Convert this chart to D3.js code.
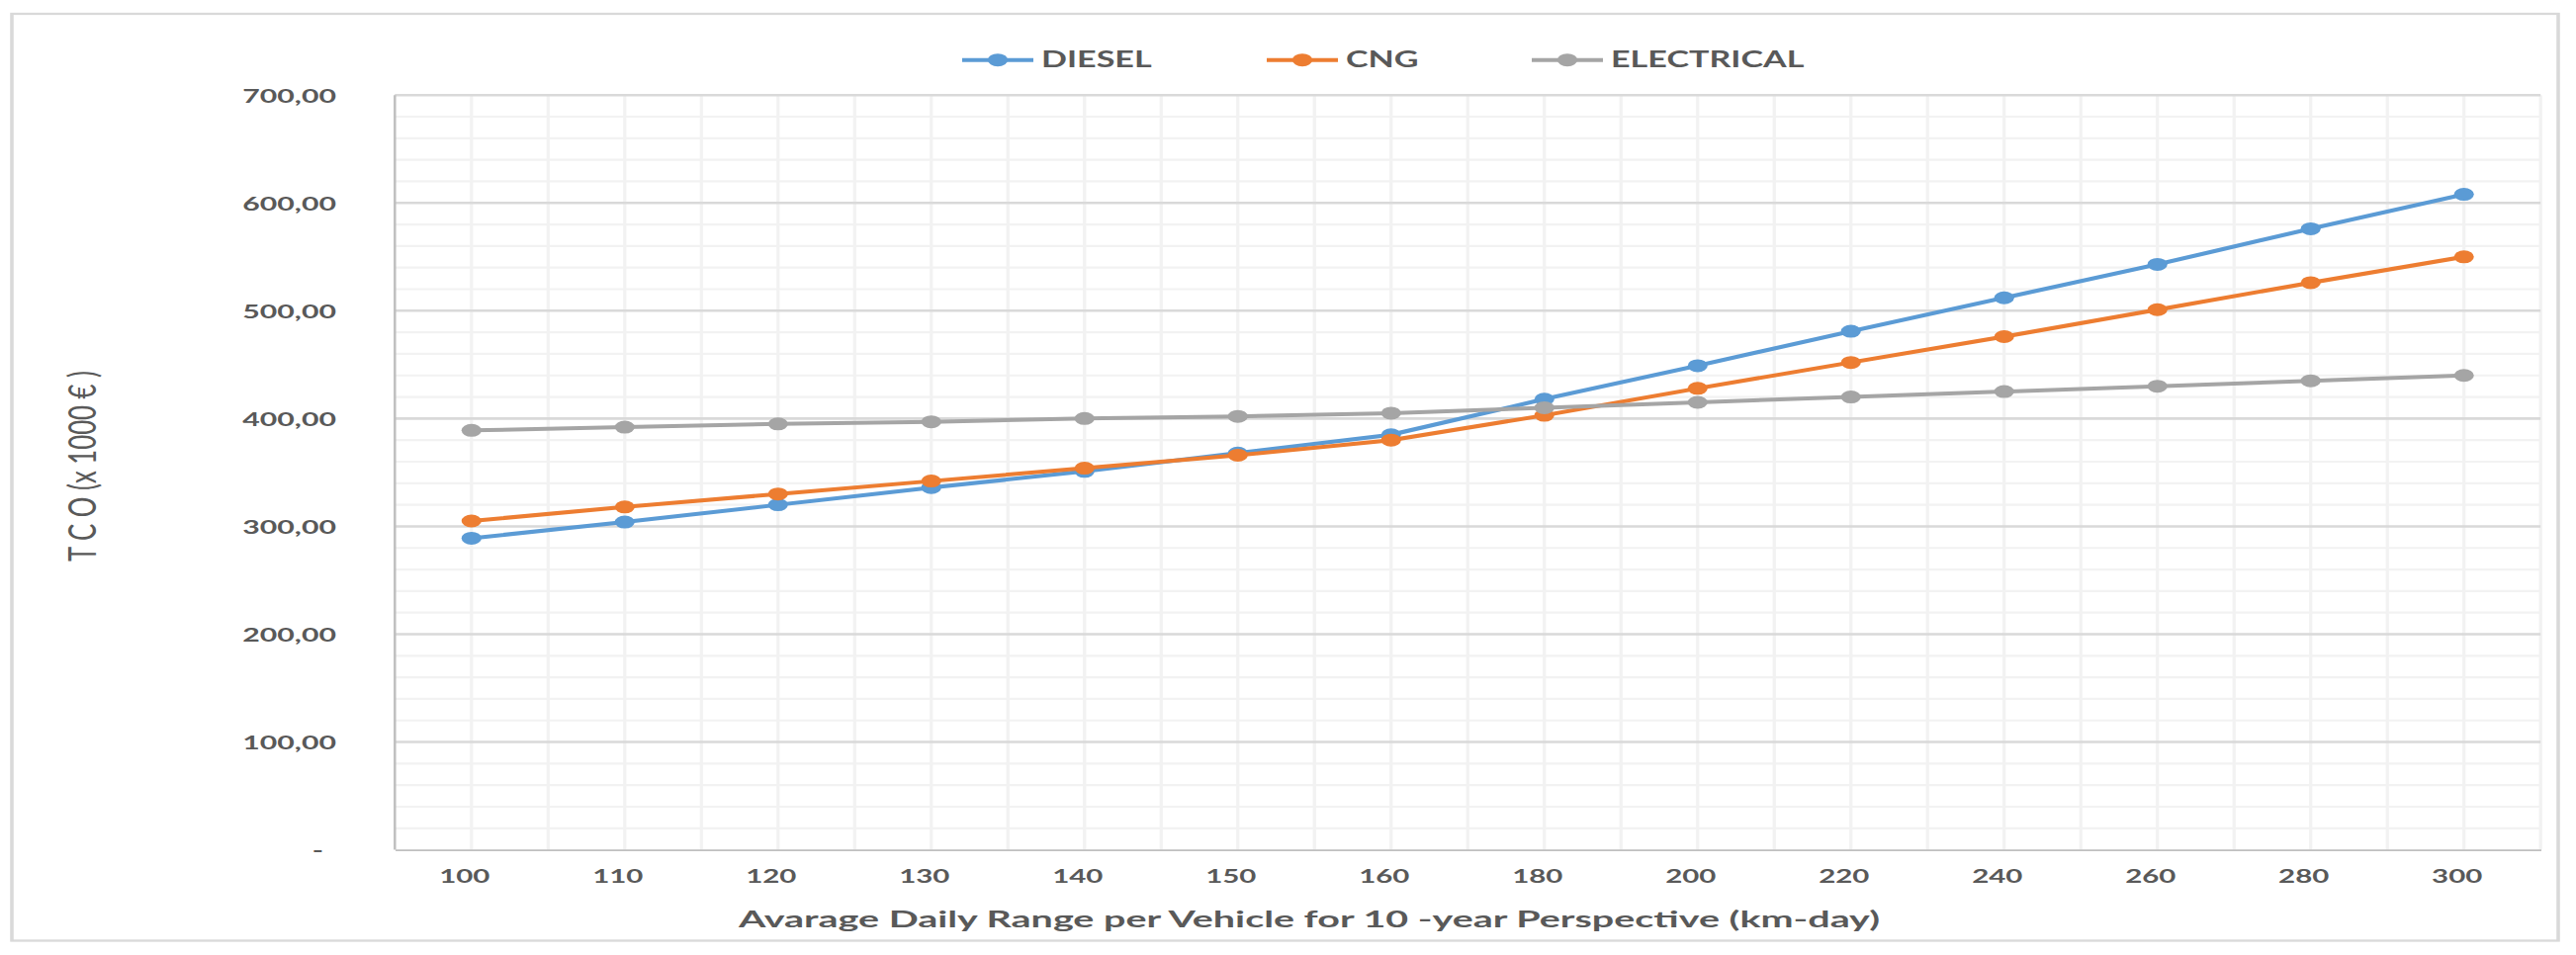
<!DOCTYPE html>
<html>
<head>
<meta charset="utf-8">
<script src="https://cdn.jsdelivr.net/npm/d3@7/dist/d3.min.js"></script>
<style>
  body { margin: 0; background: #fff; }
  #chart_svg text { font-family: Lato, 'Open Sans', sans-serif; fill: #595959; }
</style>
</head>
<body>
<svg id="chart_svg"></svg>
<script>
var categories = ['100', '110', '120', '130', '140', '150', '160', '180', '200', '220', '240', '260', '280', '300'];
var diesel = [289, 304, 320, 336, 351, 368, 385, 418, 449, 481, 512, 543, 576, 608];
var cng = [305, 318, 330, 342, 354, 366, 380, 403, 428, 452, 476, 501, 526, 550];
var electrical = [389, 392, 395, 397, 400, 402, 405, 410, 415, 420, 425, 430, 435, 440];
var seriesNames = ['DIESEL', 'CNG', 'ELECTRICAL'];
var seriesColors = ['#5b9bd5', '#ed7d31', '#a5a5a5'];
var yTicks = [0, 100, 200, 300, 400, 500, 600, 700];

// the original picture is an excel chart stretched sideways, so the whole
// svg is drawn narrow and then widened with a non-uniform viewBox
var fullWidth = 2605, height = 966;
var stretch = 1.55;
var width = fullWidth / stretch;
function sx(px) { return px / stretch; }

var plot = {left: 399.3, right: 2569.2, top: 96.2, bottom: 859.6};

var svg = d3.select('#chart_svg')
  .attr('width', fullWidth)
  .attr('height', height)
  .attr('viewBox', '0 0 ' + width + ' ' + height)
  .attr('preserveAspectRatio', 'none');

svg.append('rect')
  .attr('x', sx(12))
  .attr('y', 14)
  .attr('width', sx(2587 - 12))
  .attr('height', 951.5 - 14)
  .style('fill', '#fff')
  .style('stroke', '#d9d9d9')
  .style('stroke-width', 2.3);

var x = d3.scaleBand()
  .domain(categories)
  .range([sx(plot.left), sx(plot.right)]);

var y = d3.scaleLinear()
  .domain([0, 700])
  .range([plot.bottom, plot.top]);

var bw = x.bandwidth();
function cx(c) { return x(c) + bw / 2; }

var grid = svg.append('g').attr('class', 'grid');

// minor horizontal gridlines every 20
grid.selectAll('.minor-h')
  .data(d3.range(20, 700, 20).filter(function(v) { return v % 100 !== 0; }))
  .enter()
  .append('line')
  .attr('class', 'minor-h')
  .attr('x1', sx(plot.left))
  .attr('x2', sx(plot.right))
  .attr('y1', function(d) { return y(d); })
  .attr('y2', function(d) { return y(d); })
  .style('stroke', '#f2f2f2')
  .style('stroke-width', 2.2);

// vertical gridlines at category centres and boundaries
var vLines = [];
categories.forEach(function(c, i) {
  if (i > 0) vLines.push(x(c));
  vLines.push(cx(c));
});
vLines.push(sx(plot.right));

grid.selectAll('.minor-v')
  .data(vLines)
  .enter()
  .append('line')
  .attr('class', 'minor-v')
  .attr('x1', function(d) { return d; })
  .attr('x2', function(d) { return d; })
  .attr('y1', y(700))
  .attr('y2', y(0))
  .style('stroke', '#f2f2f2')
  .style('stroke-width', 2.1);

grid.selectAll('.major-h')
  .data(yTicks.filter(function(v) { return v > 0; }))
  .enter()
  .append('line')
  .attr('class', 'major-h')
  .attr('x1', sx(plot.left))
  .attr('x2', sx(plot.right))
  .attr('y1', function(d) { return y(d); })
  .attr('y2', function(d) { return y(d); })
  .style('stroke', '#d9d9d9')
  .style('stroke-width', 2.6);

// y axis line
svg.append('line')
  .attr('x1', sx(plot.left))
  .attr('x2', sx(plot.left))
  .attr('y1', y(700))
  .attr('y2', y(0))
  .style('stroke', '#bfbfbf')
  .style('stroke-width', 1.6);

var yAxis = d3.axisLeft(y)
  .tickValues(yTicks)
  .tickSize(0)
  .tickPadding(0)
  .tickFormat(function(d) { return d === 0 ? '-' : d3.format('.2f')(d).replace('.', ','); });

var yAxisGroup = svg.append('g')
  .attr('class', 'axis y')
  .attr('transform', 'translate(' + sx(340) + ',0)')
  .call(yAxis);

yAxisGroup.select('.domain').remove();
yAxisGroup.selectAll('text')
  .attr('font-family', null)
  .style('font-size', '19.5px')
  .style('font-weight', 'bold')
  .attr('dy', '0.35em')
  .attr('x', function(d) { return d === 0 ? sx(-13) : 0; });

var xAxis = d3.axisBottom(x)
  .tickSize(0)
  .tickSizeOuter(0);

var xAxisGroup = svg.append('g')
  .attr('class', 'axis x')
  .attr('transform', 'translate(0,' + plot.bottom + ')')
  .call(xAxis);

xAxisGroup.select('.domain')
  .style('stroke', '#bfbfbf')
  .style('stroke-width', 1.8);
xAxisGroup.selectAll('text')
  .style('font-size', '19px')
  .style('font-weight', 'bold')
  .attr('y', 893 - plot.bottom)
  .attr('dy', 0)
  .attr('x', sx(-7));

// series lines and markers
var series = [diesel, cng, electrical];
var line = d3.line()
  .x(function(d, i) { return cx(categories[i]); })
  .y(function(d) { return y(d); });

series.forEach(function(s, k) {
  var g = svg.append('g').attr('class', 'series');
  g.append('path')
    .datum(s)
    .attr('d', line)
    .style('fill', 'none')
    .style('stroke', seriesColors[k])
    .style('stroke-width', 4);
  g.selectAll('circle')
    .data(s)
    .enter()
    .append('circle')
    .attr('cx', function(d, i) { return cx(categories[i]); })
    .attr('cy', function(d) { return y(d); })
    .attr('r', 6.5)
    .style('fill', seriesColors[k]);
});

// legend
var legendX = [973, 1281, 1549];
var legend = svg.append('g').attr('class', 'legend');
seriesNames.forEach(function(name, k) {
  var lx = legendX[k];
  legend.append('line')
    .attr('x1', sx(lx))
    .attr('x2', sx(lx + 72))
    .attr('y1', 60.7)
    .attr('y2', 60.7)
    .style('stroke', seriesColors[k])
    .style('stroke-width', 4);
  legend.append('circle')
    .attr('cx', sx(lx + 36))
    .attr('cy', 60.7)
    .attr('r', 6.5)
    .style('fill', seriesColors[k]);
  legend.append('text')
    .attr('x', sx(lx + 80))
    .attr('y', 67.7)
    .style('font-size', '22px')
    .style('font-weight', 'bold')
    .text(name);
});

svg.append('text')
  .attr('class', 'axis-label x')
  .attr('x', sx(747))
  .attr('y', 938)
  .attr('textLength', sx(1154))
  .attr('lengthAdjust', 'spacingAndGlyphs')
  .style('font-size', '22px')
  .style('font-weight', 'bold')
  .text('Avarage Daily Range per Vehicle for 10 -year  Perspective (km-day)');

svg.append('text')
  .attr('class', 'axis-label y')
  .attr('transform', 'translate(' + sx(97) + ',568) rotate(-90)')
  .attr('textLength', 193)
  .attr('lengthAdjust', 'spacingAndGlyphs')
  .style('font-size', '25px')
  .text('T C O  (x 1000 € )');
</script>
</body>
</html>
